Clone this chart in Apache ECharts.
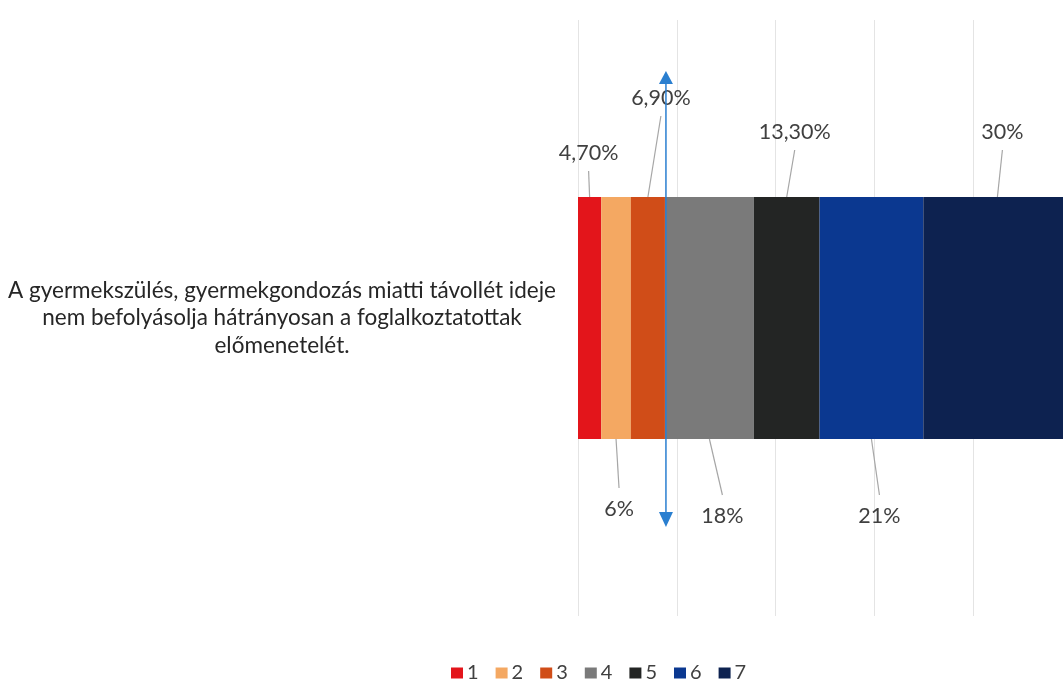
<!DOCTYPE html>
<html>
<head>
<meta charset="utf-8">
<script src="https://cdn.jsdelivr.net/npm/echarts@6/dist/echarts.min.js"></script>
<style>
html,body{margin:0;padding:0;background:#fff;}
#chart{width:1063px;height:680px;}
</style>
</head>
<body>
<div id="chart"></div>
<script>
// ---- data ----
const categories = ['A gyermekszülés, gyermekgondozás miatti távollét ideje\nnem befolyásolja hátrányosan a foglalkoztatottak\nelőmenetelét.'];
const seriesNames = ['1', '2', '3', '4', '5', '6', '7'];
const values = [4.7, 6, 6.9, 18, 13.3, 21, 30];
const labelTexts = ['4,70%', '6%', '6,90%', '18%', '13,30%', '21%', '30%'];
const xTicks = [0, 20, 40, 60, 80, 100];
const arrowAfterSegment = 3; // arrow drawn at the boundary after the 3rd segment

// ---- style / layout ----
const colors = ['#e3151b', '#f4a862', '#d04d18', '#7a7a7a', '#232524', '#0b3890', '#0d2250'];
const BAR_W = 242;
const LABEL_DX = [-1, 3, 13, 13, 8, 8, 5];
const LABEL_DY = [-44, 70, -99, 77, -65, 77, -65];
const FONT = 'Lato';

const cum = [];
let acc = 0;
values.forEach(v => { cum.push(acc); acc += v; });
const labelData = values.map((v, i) => [cum[i], cum[i] + v, i]);
const arrowX = cum[arrowAfterSegment];

const chart = echarts.init(document.getElementById('chart'));

const barSeries = seriesNames.map((n, i) => ({
  name: n,
  type: 'bar',
  stack: 'total',
  barWidth: BAR_W,
  data: [values[i]],
  itemStyle: { color: colors[i] },
  emphasis: { disabled: true },
  silent: true
}));

const option = {
  animation: false,
  backgroundColor: '#ffffff',
  grid: { left: 578, width: 494, top: 20, bottom: 64, outerBoundsMode: 'none', containLabel: false },
  xAxis: {
    type: 'value',
    min: xTicks[0],
    max: xTicks[xTicks.length - 1],
    interval: xTicks[1] - xTicks[0],
    axisLabel: { show: false },
    axisLine: { show: false },
    axisTick: { show: false },
    splitLine: { show: true, lineStyle: { color: '#e4e4e4', width: 1 } }
  },
  yAxis: {
    type: 'category',
    data: categories,
    axisLine: { show: false },
    axisTick: { show: false },
    axisLabel: {
      margin: 296,
      align: 'center',
      fontFamily: FONT,
      fontSize: 22.5,
      lineHeight: 27.5,
      padding: [4, 0, 0, 0],
      color: '#262626'
    }
  },
  legend: {
    data: seriesNames,
    left: 451,
    top: 663,
    padding: 0,
    icon: 'rect',
    itemWidth: 12,
    itemHeight: 11,
    itemGap: 17,
    textStyle: { fontFamily: FONT, fontSize: 20, color: '#404040', padding: [0, 0, 0, -1] }
  },
  series: barSeries.concat([
    {
      name: 'labels',
      type: 'custom',
      silent: true,
      data: labelData,
      z: 5,
      renderItem: function (params, api) {
        const i = api.value(2);
        const s = api.coord([api.value(0), 0]);
        const e = api.coord([api.value(1), 0]);
        const cx = (s[0] + e[0]) / 2;
        const cy = s[1];
        const up = LABEL_DY[i] < 0;
        const edgeY = up ? cy - BAR_W / 2 : cy + BAR_W / 2;
        const lx = cx + LABEL_DX[i];
        const ly = edgeY + LABEL_DY[i];
        const lineEnd = up ? ly + 18 : ly - 21;
        return {
          type: 'group',
          children: [
            { type: 'line', shape: { x1: cx, y1: edgeY, x2: lx, y2: lineEnd },
              style: { stroke: '#a6a6a6', lineWidth: 1.2 } },
            { type: 'text', style: { text: labelTexts[i], x: lx, y: ly, align: 'center', verticalAlign: 'middle',
              fontFamily: FONT, fontSize: 21.5, fill: '#404040' } }
          ]
        };
      }
    },
    {
      name: 'arrow',
      type: 'custom',
      silent: true,
      data: [[arrowX]],
      z: 6,
      renderItem: function (params, api) {
        const p = api.coord([api.value(0), 0]);
        const x = p[0] + 1, cy = p[1];
        const topTip = cy - 247, topBase = cy - 234;
        const botTip = cy + 209, botBase = cy + 194;
        const c = '#2a7fd0';
        return {
          type: 'group',
          children: [
            { type: 'line', shape: { x1: x, y1: topBase, x2: x, y2: botBase }, style: { stroke: c, lineWidth: 1.5 } },
            { type: 'polygon', shape: { points: [[x, topTip], [x - 7, topBase], [x + 7, topBase]] }, style: { fill: c } },
            { type: 'polygon', shape: { points: [[x, botTip], [x - 7, botBase], [x + 7, botBase]] }, style: { fill: c } }
          ]
        };
      }
    }
  ])
};

chart.setOption(option);
</script>
</body>
</html>
